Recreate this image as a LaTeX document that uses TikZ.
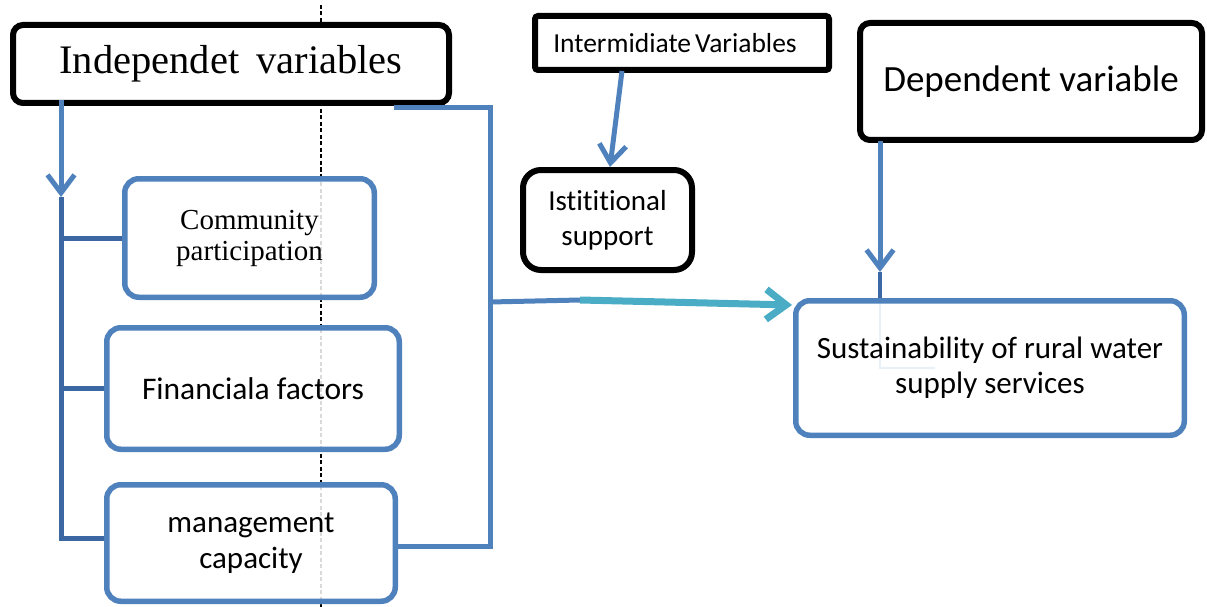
\documentclass[tikz,border=0pt]{standalone}
\usepackage{fontspec}
\setmainfont{Liberation Serif}
\newfontfamily\calfont[Ligatures=CommonOff]{Carlito}
\usetikzlibrary{arrows.meta,calc,backgrounds}
\definecolor{obl}{HTML}{4F81BD}
\definecolor{dbl}{HTML}{3B68A2}
\definecolor{tealc}{HTML}{4BACC6}
\begin{document}
\begin{tikzpicture}[x=1pt,y=-1pt,
  blackbox/.style={draw=black, line width=6pt, rounded corners=10pt, fill=white, inner sep=0pt, align=center},
  bluebox/.style={draw=obl, line width=5.5pt, rounded corners=14pt, inner sep=0pt, align=center},
  arr/.style={draw=obl, line width=5pt, -{Straight Barb[length=18pt,width=27pt]}},
  tealarr/.style={draw=tealc, line width=7pt, -{Straight Barb[length=20pt,width=30pt]}},
  blueline/.style={draw=obl, line width=5pt},
  busline/.style={draw=dbl, line width=5pt},
  blackdash/.style={draw=black, line width=1.5pt, dash pattern=on 4pt off 2.5pt},
  graydash/.style={draw=black!15, line width=1.5pt, dash pattern=on 4pt off 2.5pt}
]
\useasboundingbox (0,0) rectangle (1207,607);

\node[blackbox, minimum width=436pt, minimum height=78pt,
  font={\fontsize{40.5}{45}\selectfont}] (indep) at (231,64)
  {\raisebox{-3pt}{Independet\hspace{0.42em}variables}};
\node[blackbox, rounded corners=3pt, minimum width=294pt, minimum height=54pt,
  font={\calfont\fontsize{27.5}{30}\selectfont}] (inter) at (682,43)
  {\hspace*{-14pt}Intermidiate\hspace{0.15em}Variables};
\node[blackbox, rounded corners=18pt, minimum width=169pt, minimum height=100pt,
  font={\calfont\fontsize{29}{35}\selectfont}] (inst) at (607.5,220)
  {Istititional\\support};
\node[blackbox, minimum width=342pt, minimum height=117pt,
  font={\calfont\fontsize{37}{42}\selectfont}] (dep) at (1031,81.5)
  {Dependent variable};

\node[bluebox, minimum width=249.5pt, minimum height=118.5pt,
  font={\fontsize{29}{31}\selectfont}] (comm) at (249.5,238)
  {Community\\participation};
\node[bluebox, minimum width=292.5pt, minimum height=121.5pt,
  font={\calfont\fontsize{31.5}{36}\selectfont}] (fin) at (253,388.5)
  {Financiala factors};
\node[bluebox, minimum width=288.5pt, minimum height=116.5pt,
  font={\calfont\fontsize{31}{36}\selectfont}] (mgmt) at (251,543)
  {management\\capacity};
\node[bluebox, minimum width=388.5pt, minimum height=134.5pt,
  font={\calfont\fontsize{31}{35}\selectfont}] (sust) at (990,368)
  {Sustainability of rural water\\supply services};

\begin{pgfonlayer}{background}
  % dashed guide: black outside the boxes, faint inside the blue boxes
  \draw[blackdash] (321,5) -- (321,607);
  \foreach \b in {comm,fin,mgmt}
    \fill[white, rounded corners=14pt] (\b.south west) rectangle (\b.north east);
  \draw[graydash] (321,182) -- (321,296);
  \draw[graydash] (321,329) -- (321,448);
  \draw[graydash] (321,486) -- (321,600);
  % faint guide line inside the sustainability box
  \draw[draw=obl!12, line width=2.5pt] (880,300) -- (880,368) -- (935,368);
\end{pgfonlayer}

% left bus
\coordinate (bustop) at (61,197);
\draw[arr] ($(indep.south -| bustop)+(0,-6)$) -- (bustop);
\draw[busline] (bustop) |- ($(mgmt.west)+(0,-5)$);
\draw[busline] (bustop |- comm.west) -- (comm.west);
\draw[busline] (bustop |- fin.west) -- (fin.west);

% right bracket and arrow to the dependent variable box
\coordinate (brk) at (490,302);
\coordinate (tealstart) at (580,300);
\draw[blueline] ($(indep.south east)+(-58,2)$) -| (brk) |- ($(mgmt.east)+(-3,3)$);
\draw[blueline] (brk) -- (tealstart);
\draw[tealarr] (tealstart) -- ($(sust.north west)+(-1,7)$);

% intermediate arrow
\draw[arr] ($(inter.south)+(-60,-2)$) -- ($(inst.north)+(2.5,0)$);

% dependent arrow
\coordinate (deptip) at (880,272);
\draw[arr] ($(dep.south west)+(23,-2)$) -- (deptip);
\draw[draw=dbl, line width=3.5pt] (deptip) -- (deptip |- sust.north);
\end{tikzpicture}
\end{document}
